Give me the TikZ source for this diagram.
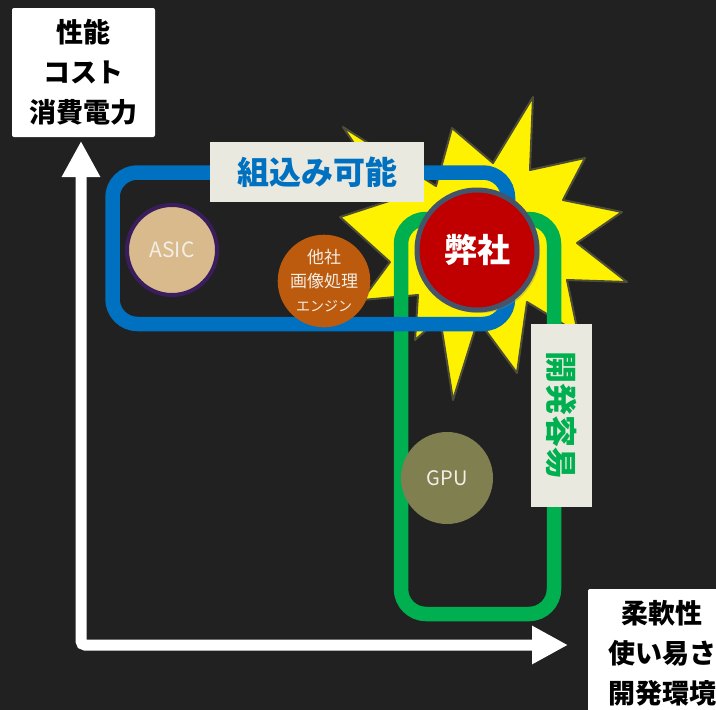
\documentclass[tikz,border=0pt]{standalone}
\usepackage{fontspec}
\setmainfont{Noto Sans CJK JP}
\usetikzlibrary{arrows.meta,shadows}
\definecolor{bgdark}{HTML}{212121}
\definecolor{zblue}{HTML}{0070C0}
\definecolor{zgreen}{HTML}{00B050}
\definecolor{labelbg}{HTML}{E9E9DF}
\definecolor{asicfill}{HTML}{D9BA8C}
\definecolor{asicline}{HTML}{3A1D5C}
\definecolor{enginefill}{HTML}{BC5A0E}
\definecolor{gpufill}{HTML}{7F7F50}
\definecolor{ourred}{HTML}{C00000}
\definecolor{ourline}{HTML}{44546A}
\definecolor{starline}{HTML}{4E4E36}
\definecolor{ballfont}{HTML}{F3EEE6}

\begin{document}
\begin{tikzpicture}[x=1pt,y=-1pt,
    axislabel/.style={fill=white,rounded corners=2pt,align=center,
        font={\bfseries\fontsize{27}{40}\selectfont}},
    ball/.style={circle,inner sep=0pt,text=ballfont,align=center},
    tag/.style={fill=labelbg,inner sep=0pt,font={\bfseries\fontsize{32}{36}\selectfont}},
    frame/.style={line width=14.5pt,rounded corners=25pt},
    axis/.style={white,line width=11pt,rounded corners=4pt,
        {Triangle[width=36pt,length=36pt]}-{Triangle[width=36pt,length=36pt]}}]
\useasboundingbox (0,0) rectangle (716,710);
\clip (0,0) rectangle (716,710);
\fill[bgdark] (0,0) rectangle (716,710);
% explosion behind our company
\draw[fill=yellow,draw=starline,line width=2pt,line join=round]
    (533,97) -- (530,170) -- (585,158) -- (563,200) -- (622,212) -- (577,243)
    -- (627,282) -- (567,280) -- (578,333) -- (527,302) -- (517,373) -- (478,320)
    -- (453,400) -- (440,318) -- (415,340) -- (418,295) -- (362,300) -- (390,262)
    -- (340,217) -- (392,200) -- (343,127) -- (436,186) -- (452,128) -- (493,163)
    -- cycle;
% groups
\draw[frame,zgreen] (401,219) rectangle (554,614);
\draw[frame,zblue] (112.5,172.5) rectangle (508,324);
\node[tag,text=zblue,minimum width=214pt,minimum height=60pt] (kumikomi) at (317,172) {組込み可能};
\node[tag,text=zgreen,rotate=-90,minimum width=183pt,minimum height=61pt] (kaihatsu) at (561.5,415.5) {開発容易};
% devices
\node[ball,fill=asicfill,draw=asicline,line width=4pt,minimum size=90pt,
    font=\fontsize{21}{24}\selectfont] (asic) at (172,250) {ASIC};
\node[ball,fill=enginefill,minimum size=92pt,font=\fontsize{17}{24}\selectfont]
    (engine) at (324,281) {他社\\画像処理\\{\fontsize{14}{24}\selectfont エンジン}};
\node[ball,fill=gpufill,minimum size=92pt,font=\fontsize{20}{24}\selectfont] (gpu) at (447,478) {GPU};
\node[ball,fill=ourred,draw=ourline,line width=5pt,minimum size=120pt,text=white,
    font=\bfseries\fontsize{33}{36}\selectfont,
    drop shadow={shadow xshift=3pt,shadow yshift=-3pt,opacity=0.35}] (heisha) at (477,250) {弊社};
% axes
\coordinate (origin) at (81,645);
\coordinate (ytip) at (81,141);
\coordinate (xtip) at (568,645);
\draw[axis] (ytip) -- (origin) -- (xtip);
\node[axislabel,minimum width=143pt,minimum height=129pt] (ylabel) at (83.5,72.5) {性能\\コスト\\消費電力};
\node[axislabel,minimum width=148pt,minimum height=128pt] (xlabel) at (662,653) {柔軟性\\使い易さ\\開発環境};
\end{tikzpicture}
\end{document}
